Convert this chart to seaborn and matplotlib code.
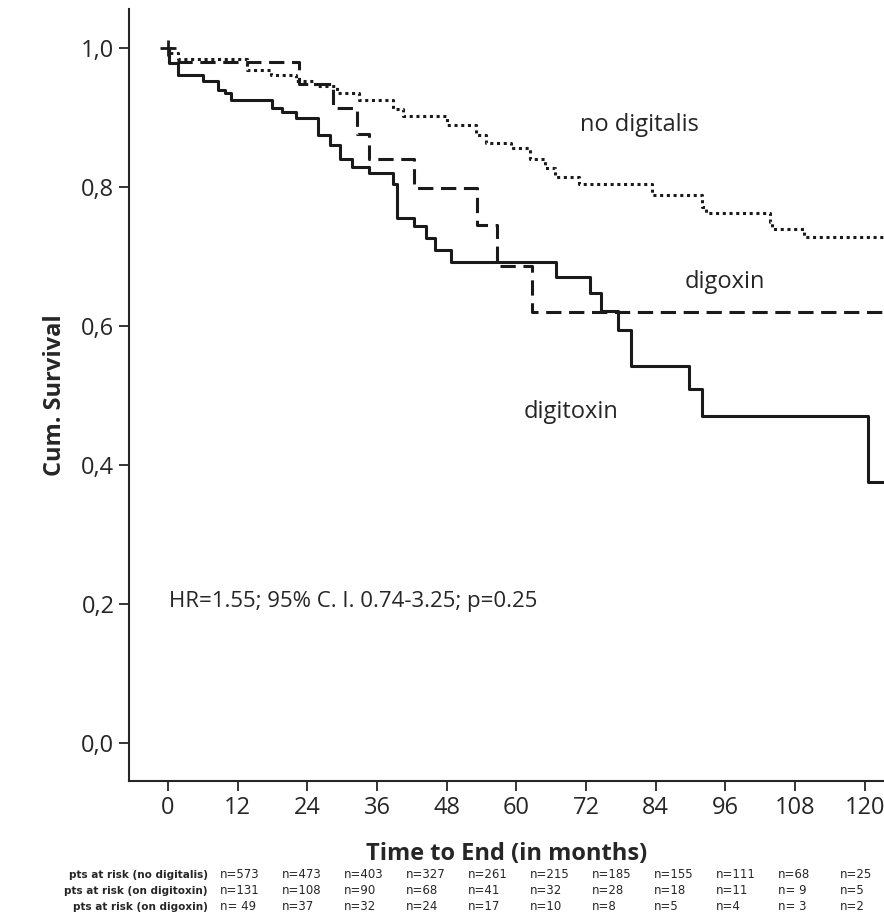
import numpy as np
import pandas as pd
import seaborn as sns
import matplotlib.pyplot as plt

# Kaplan-Meier step points (month, survival)
digitoxin_t = [0, 0.1, 1.8, 6, 8.7, 9.8, 10.9, 17.9, 19.6, 22, 25.8, 27.9, 29.7, 31.7, 34.6,
               38.8, 39.5, 42.4, 44.5, 46, 48.8, 66.8, 72.7, 74.6, 77.5, 79.7, 89.8, 91.9, 120.5, 124]
digitoxin_s = [1.0, 0.978, 0.962, 0.952, 0.94, 0.935, 0.925, 0.914, 0.908, 0.899, 0.875, 0.86, 0.841,
               0.829, 0.82, 0.805, 0.756, 0.744, 0.726, 0.709, 0.692, 0.67, 0.648, 0.622, 0.595,
               0.543, 0.509, 0.471, 0.375, 0.375]
digoxin_t = [0, 0.1, 22.6, 28.5, 32.5, 34.6, 42.4, 53.3, 56.7, 62.6, 124]
digoxin_s = [1.0, 0.98, 0.948, 0.914, 0.877, 0.841, 0.798, 0.745, 0.687, 0.62, 0.62]
nodig_t = [0, 0.5, 1.8, 13.6, 17.8, 22, 25.3, 29.1, 32.9, 38.8, 40.5, 48, 53.1, 54.8, 59, 62.4,
           64.9, 66.6, 70.8, 83.4, 91.9, 92.7, 103.6, 104, 109.5, 124]
nodig_s = [1.0, 0.993, 0.985, 0.969, 0.962, 0.952, 0.945, 0.935, 0.926, 0.913, 0.902, 0.889, 0.875,
           0.863, 0.856, 0.841, 0.827, 0.815, 0.805, 0.788, 0.772, 0.762, 0.75, 0.74, 0.728, 0.728]

x_ticks = [0, 12, 24, 36, 48, 60, 72, 84, 96, 108, 120]
y_ticks = [0.0, 0.2, 0.4, 0.6, 0.8, 1.0]
y_labels = ['0,0', '0,2', '0,4', '0,6', '0,8', '1,0']

risk_rows = ['pts at risk (no digitalis)', 'pts at risk (on digitoxin)', 'pts at risk (on digoxin)']
risk_nodig = ['n=573', 'n=473', 'n=403', 'n=327', 'n=261', 'n=215', 'n=185', 'n=155', 'n=111', 'n=68', 'n=25']
risk_digitoxin = ['n=131', 'n=108', 'n=90', 'n=68', 'n=41', 'n=32', 'n=28', 'n=18', 'n=11', 'n= 9', 'n=5']
risk_digoxin = ['n= 49', 'n=37', 'n=32', 'n=24', 'n=17', 'n=10', 'n=8', 'n=5', 'n=4', 'n= 3', 'n=2']

df = pd.concat([
    pd.DataFrame({'t': nodig_t, 's': nodig_s, 'group': 'no digitalis'}),
    pd.DataFrame({'t': digoxin_t, 's': digoxin_s, 'group': 'digoxin'}),
    pd.DataFrame({'t': digitoxin_t, 's': digitoxin_s, 'group': 'digitoxin'}),
])

sns.set_style('ticks')
plt.rcParams['font.family'] = ['Open Sans', 'DejaVu Sans']

fig = plt.figure(figsize=(8.84, 9.18), dpi=100)
ax = fig.add_axes([0.146, 0.149, 0.854, 0.841])

styles = {'no digitalis': (0, (1, 1.2)), 'digoxin': (0, (5, 2.5)), 'digitoxin': '-'}
for g, sub in df.groupby('group', sort=False):
    sns.lineplot(data=sub, x='t', y='s', ax=ax, color='#1a1a1a', lw=2.2,
                 drawstyle='steps-post', linestyle=styles[g], estimator=None, legend=False)
ax.plot([0], [1.0], marker='+', ms=12, mew=2, color='#1a1a1a')

ax.set_xlim(-6.7, 123.3)
ax.set_ylim(-0.055, 1.056)
ax.set_xticks(x_ticks)
ax.set_yticks(y_ticks)
ax.set_yticklabels(y_labels)
ax.tick_params(labelsize=17, length=7, width=1.3, direction='out')
for sp in ['top', 'right']:
    ax.spines[sp].set_visible(False)
for sp in ['left', 'bottom']:
    ax.spines[sp].set_linewidth(1.5)
ax.set_xlabel('Time to End (in months)', fontsize=17, fontweight='bold', labelpad=16)
ax.set_ylabel('Cum. Survival', fontsize=17, fontweight='bold', labelpad=10)

ax.text(70.9, 0.889, 'no digitalis', fontsize=17, va='center')
ax.text(89, 0.663, 'digoxin', fontsize=17, va='center')
ax.text(61.2, 0.476, 'digitoxin', fontsize=17, va='center')
ax.text(0.2, 0.203, 'HR=1.55; 95% C. I. 0.74-3.25; p=0.25', fontsize=16, va='center')

row_y = [1 - 875 / 918, 1 - 891 / 918, 1 - 907 / 918]
for label, vals, y in zip(risk_rows, [risk_nodig, risk_digitoxin, risk_digoxin], row_y):
    fig.text(208 / 884, y, label, fontsize=7.5, fontweight='bold', ha='right', va='center',
             family=['Liberation Sans Narrow', 'DejaVu Sans'])
    for i, v in enumerate(vals):
        fig.text((220 + 62 * i) / 884, y, v, fontsize=8.5, ha='left', va='center',
                 family=['Liberation Sans Narrow', 'DejaVu Sans'])

fig.savefig('out.png', dpi=100)
